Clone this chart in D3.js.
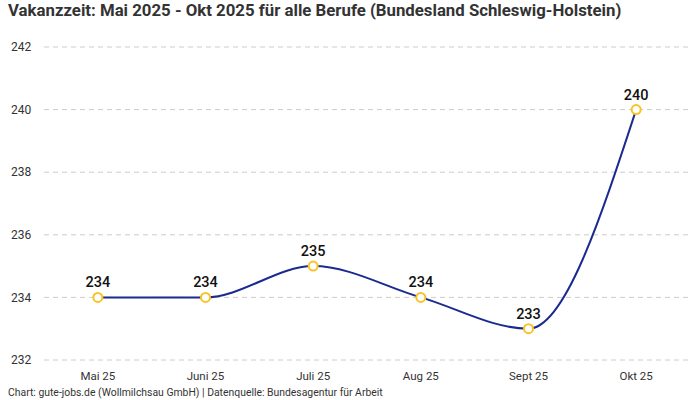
<!DOCTYPE html>
<html>
<head>
<meta charset="utf-8">
<script src="https://cdn.jsdelivr.net/npm/d3@7"></script>
<style>
  body { margin: 0; background: #fff; }
  svg { font-family: Roboto, "Noto Sans", sans-serif; }
</style>
</head>
<body>
<div id="canvas"></div>
<script>
const months = ['Mai 25', 'Juni 25', 'Juli 25', 'Aug 25', 'Sept 25', 'Okt 25'];
const vakanz = [234, 234, 235, 234, 233, 240];
const yTicks = [232, 234, 236, 238, 240, 242];

const width = 700;
const height = 400;
const margin = { top: 47, right: 10, bottom: 40, left: 44 };

const svg = d3.select('#canvas').append('svg')
    .attr('width', width)
    .attr('height', height);

// title
svg.append('text')
    .attr('x', 8)
    .attr('y', 16)
    .attr('font-size', 16.8)
    .attr('font-weight', 'bold')
    .attr('fill', '#333')
    .text('Vakanzzeit: Mai 2025 - Okt 2025 für alle Berufe (Bundesland Schleswig-Holstein)');

const x = d3.scalePoint()
    .domain(months)
    .range([margin.left, width - margin.right])
    .padding(0.5);

const y = d3.scaleLinear()
    .domain([232, 242])
    .range([height - margin.bottom, margin.top]);

// grid
svg.append('g')
    .selectAll('line')
    .data(yTicks)
    .join('line')
    .attr('x1', margin.left)
    .attr('x2', width - margin.right)
    .attr('y1', d => y(d))
    .attr('y2', d => y(d))
    .attr('stroke', '#cccccc')
    .attr('stroke-dasharray', '5,4');

// y labels
svg.append('g')
    .selectAll('text')
    .data(yTicks)
    .join('text')
    .attr('x', 11)
    .attr('y', d => y(d))
    .attr('dy', '0.35em')
    .attr('font-size', 12)
    .attr('fill', '#333')
    .text(d => d);

// x labels
svg.append('g')
    .selectAll('text')
    .data(months)
    .join('text')
    .attr('x', d => x(d))
    .attr('y', height - margin.bottom + 20)
    .attr('text-anchor', 'middle')
    .attr('font-size', 11.5)
    .attr('fill', '#333')
    .text(d => d);

const points = months.map((m, i) => ({ m, v: vakanz[i] }));

const line = d3.line()
    .x(d => x(d.m))
    .y(d => y(d.v))
    .curve(d3.curveMonotoneX);

svg.append('path')
    .datum(points)
    .attr('d', line)
    .attr('fill', 'none')
    .attr('stroke', '#1b2a8f')
    .attr('stroke-width', 2);

svg.append('g')
    .selectAll('circle')
    .data(points)
    .join('circle')
    .attr('cx', d => x(d.m))
    .attr('cy', d => y(d.v))
    .attr('r', 4.5)
    .attr('fill', '#fff')
    .attr('stroke', '#f7c325')
    .attr('stroke-width', 2);

svg.append('g')
    .selectAll('text')
    .data(points)
    .join('text')
    .attr('x', d => x(d.m))
    .attr('y', d => y(d.v) - 10)
    .attr('text-anchor', 'middle')
    .attr('font-size', 14.5)
    .attr('font-weight', 500)
    .attr('fill', '#111')
    .text(d => d.v);

// footer
svg.append('text')
    .attr('x', 8)
    .attr('y', 396)
    .attr('font-size', 10.4)
    .attr('fill', '#333')
    .text('Chart: gute-jobs.de (Wollmilchsau GmbH) | Datenquelle: Bundesagentur für Arbeit');
</script>
</body>
</html>
